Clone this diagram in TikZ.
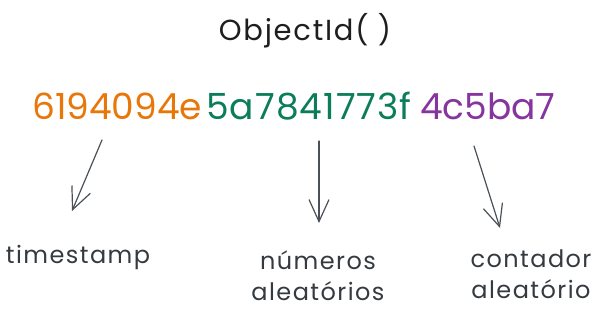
\documentclass[tikz,border=0pt]{standalone}
\usepackage{fontspec}
\setmainfont{Poppins}
\newfontfamily\wideface[LetterSpace=6]{Poppins}
\newfontfamily\hexface[LetterSpace=3]{Poppins}
\usetikzlibrary{arrows.meta}
\definecolor{idblack}{HTML}{1E1E1E}
\definecolor{tsorange}{HTML}{E8770A}
\definecolor{rndgreen}{HTML}{0B7D5A}
\definecolor{ctrpurple}{HTML}{86349E}
\definecolor{tagslate}{HTML}{343A40}
\definecolor{arrgray}{HTML}{495057}
\tikzstyle{hexpart}=[inner sep=0pt, anchor=base west, font=\fontsize{36}{36}\selectfont]
\tikzstyle{tag}=[inner sep=0pt, align=center, text=tagslate, font=\wideface\fontsize{24}{31}\selectfont]
\tikzstyle{arr}=[draw=arrgray, line width=1.2pt, line cap=round,
  -{Straight Barb[length=22pt,width=20pt,line width=1.2pt]}]
\newcommand{\hexpart}{\node[hexpart]}
\newcommand{\tag}{\node[tag]}

\begin{document}
\begin{tikzpicture}[x=1pt, y=-1pt, every edge/.style=arr]
\useasboundingbox (0,0) rectangle (603,320);
\node[text=idblack, font=\wideface\fontsize{29}{29}\selectfont] (oid) at (305,31) {ObjectId( )};
\hexpart[text=tsorange] (ts) at (32,120) {6194094e};
\hexpart[text=rndgreen, font=\hexface\fontsize{36}{36}\selectfont] (rnd) at (206,120) {5a7841773f};
\hexpart[text=ctrpurple] (ctr) at (420,120) {4c5ba7};
\tag (tslbl) at (78,257) {timestamp};
\tag (rndlbl) at (318,276) {números\\aleatórios};
\tag (ctrlbl) at (531,274) {contador\\aleatório};
% arrow ends
\coordinate (ts0) at (102,140);
\coordinate (ts1) at (72,211);
\coordinate (rnd0) at (319,141);
\coordinate (rnd1) at (319,223);
\coordinate (ctr0) at (474,146);
\coordinate (ctr1) at (500,228);
\path
(ts0) edge (ts1)
(rnd0) edge (rnd1)
(ctr0) edge (ctr1)
;
\end{tikzpicture}
\end{document}
